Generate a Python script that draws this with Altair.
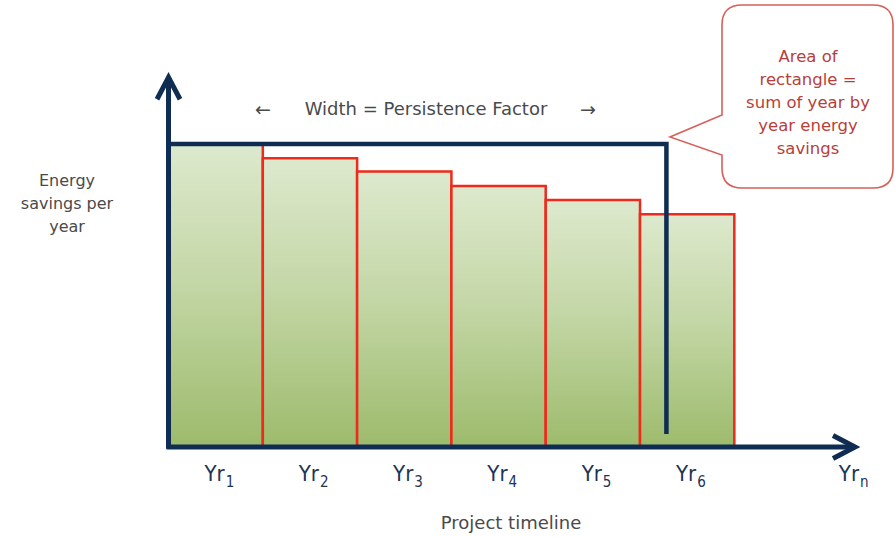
import altair as alt
import pandas as pd

# ---- values -------------------------------------------------------------
year_subscripts = ["1", "2", "3", "4", "5", "6"]
savings = [100, 95.3, 90.9, 86.1, 81.5, 76.8]      # energy savings per year
first_year_savings = 100                           # height of the navy rectangle
persistence_factor = 5.28                          # width of the navy rectangle (years)
persistence_floor = 4.3                            # where the navy side stops
axis_end_year = 7.28                               # tip of the timeline arrow
axis_top_value = 122                               # tip of the savings arrow

callout_lines = ["Area of", "rectangle =", "sum of year by", "year energy", "savings"]
ytitle_lines = ["Energy", "savings per", "year"]

# ---- styling ------------------------------------------------------------
NAVY = "#0f2d52"
RED = "#ee2a1c"
TEXT = "#4a4a4a"
LABEL = "#1d3456"
CALLOUT_TEXT = "#b8403a"
CALLOUT_EDGE = "#d6605a"
FONT = "DejaVu Sans"
NARROW = "DejaVu Sans Condensed, Liberation Sans Narrow, DejaVu Sans"

xs = alt.Scale(domain=[-1.787, 7.704], nice=False, zero=False)
ys = alt.Scale(domain=[-29.7, 147.5], nice=False, zero=False)


def X(f):
    return alt.X(f, type="quantitative", scale=xs, axis=None)


def Y(f):
    return alt.Y(f, type="quantitative", scale=ys, axis=None)


n = len(savings)
bars = pd.DataFrame({
    "start": list(range(n)),
    "end": list(range(1, n + 1)),
    "base": [0] * n,
    "savings": savings,
    "sub": year_subscripts,
})
bars["mid"] = bars["start"] + 0.5

green = alt.Gradient(
    gradient="linear",
    stops=[alt.GradientStop(color="#dde9cd", offset=0),
           alt.GradientStop(color="#c4d7a7", offset=0.45),
           alt.GradientStop(color="#9dbb6c", offset=1)],
    x1=0, x2=0, y1=0, y2=1,
)

bar_layer = alt.Chart(bars).mark_rect(fill=green, stroke=RED, strokeWidth=2.5).encode(
    x=X("start"), x2="end", y=Y("savings"), y2="base"
)

# navy rectangle: first-year savings held for the persistence period
outline = pd.DataFrame({
    "x": [0, persistence_factor, persistence_factor],
    "y": [first_year_savings, first_year_savings, persistence_floor],
    "o": [0, 1, 2],
})
outline_layer = alt.Chart(outline).mark_line(
    color=NAVY, strokeWidth=4.5, strokeJoin="miter", strokeCap="butt"
).encode(x=X("x"), y=Y("y"), order="o:Q")

# axes
axes = pd.DataFrame({
    "x": [0, -0.02], "x2": [0, axis_end_year - 0.05],
    "y": [-0.6, 0], "y2": [axis_top_value - 0.5, 0],
})
axes_layer = alt.Chart(axes).mark_rule(color=NAVY, strokeWidth=5).encode(
    x=X("x"), x2="x2", y=Y("y"), y2="y2"
)

chevron = "M -1.15 2.2 L 0 0 L 1.15 2.2"
up_arrow = alt.Chart(pd.DataFrame({"x": [0], "y": [axis_top_value]})).mark_point(
    shape=chevron, filled=False, size=400, stroke=NAVY, strokeWidth=5,
    strokeJoin="miter", opacity=1
).encode(x=X("x"), y=Y("y"))
right_arrow = alt.Chart(pd.DataFrame({"x": [axis_end_year], "y": [0]})).mark_point(
    shape=chevron, filled=False, size=400, stroke=NAVY, strokeWidth=5,
    strokeJoin="miter", angle=90, opacity=1
).encode(x=X("x"), y=Y("y"))

# year labels: "Yr" with a subscript index
yr_main = alt.Chart(bars).mark_text(
    text="Yr", align="right", baseline="middle", dx=9, font=NARROW, fontSize=22, color=LABEL
).encode(x=X("mid"), y=alt.value(474))
yr_sub = alt.Chart(bars).mark_text(
    align="left", baseline="middle", dx=10, dy=8, font=NARROW, fontSize=15, color=LABEL
).encode(x=X("mid"), y=alt.value(474), text="sub:N")

end_lbl = pd.DataFrame({"x": [axis_end_year], "sub": ["n"]})
yrn_main = alt.Chart(end_lbl).mark_text(
    text="Yr", align="right", baseline="middle", dx=4, font=NARROW, fontSize=22, color=LABEL
).encode(x=X("x"), y=alt.value(474))
yrn_sub = alt.Chart(end_lbl).mark_text(
    align="left", baseline="middle", dx=5, dy=8, font=NARROW, fontSize=15, color=LABEL
).encode(x=X("x"), y=alt.value(474), text="sub:N")

one = pd.DataFrame({"k": [0]})

width_note = alt.Chart(one).mark_text(
    text="Width = Persistence Factor", font=FONT, fontSize=18, color=TEXT,
    align="center", baseline="middle"
).encode(x=alt.value(426), y=alt.value(110))
left_arr = alt.Chart(one).mark_text(
    text="←", font=FONT, fontSize=19, color=TEXT, align="center", baseline="middle"
).encode(x=alt.value(263), y=alt.value(110))
right_arr = alt.Chart(one).mark_text(
    text="→", font=FONT, fontSize=19, color=TEXT, align="center", baseline="middle"
).encode(x=alt.value(588), y=alt.value(110))

ytitle = alt.Chart(one).mark_text(
    text=ytitle_lines, font=FONT, fontSize=16, color=TEXT, align="center",
    baseline="middle", lineHeight=23
).encode(x=alt.value(67), y=alt.value(181))

xtitle = alt.Chart(one).mark_text(
    text="Project timeline", font=FONT, fontSize=18, color=TEXT, align="center",
    baseline="middle"
).encode(x=alt.value(511), y=alt.value(524))

# speech-bubble callout
bubble_path = (
    "M -6.6 -9.1 L 6.5 -9.1 Q 8.5 -9.1 8.5 -7.1 L 8.5 7.2 Q 8.5 9.2 6.5 9.2 "
    "L -6.6 9.2 Q -8.6 9.2 -8.6 7.2 L -8.6 5.9 L -13.8 4.1 L -8.6 1.9 "
    "L -8.6 -7.1 Q -8.6 -9.1 -6.6 -9.1 Z"
)
bubble = alt.Chart(one).mark_point(
    shape=bubble_path, filled=True, fill="white", stroke=CALLOUT_EDGE,
    strokeWidth=1.6, size=400, opacity=1
).encode(x=alt.value(808), y=alt.value(96))
bubble_text = alt.Chart(one).mark_text(
    text=callout_lines, font=FONT, fontSize=16.5, color=CALLOUT_TEXT, align="center",
    baseline="middle", lineHeight=23
).encode(x=alt.value(808), y=alt.value(57))

chart = alt.layer(
    bar_layer, outline_layer, axes_layer, up_arrow, right_arrow,
    yr_main, yr_sub, yrn_main, yrn_sub,
    width_note, left_arr, right_arr, ytitle, xtitle,
    bubble, bubble_text,
).properties(
    width=895, height=537, padding=0, autosize=alt.AutoSizeParams(type="none"),
    background="white",
).configure_view(stroke=None)

chart.save("out.html", embed_options={"renderer": "svg", "actions": False})
